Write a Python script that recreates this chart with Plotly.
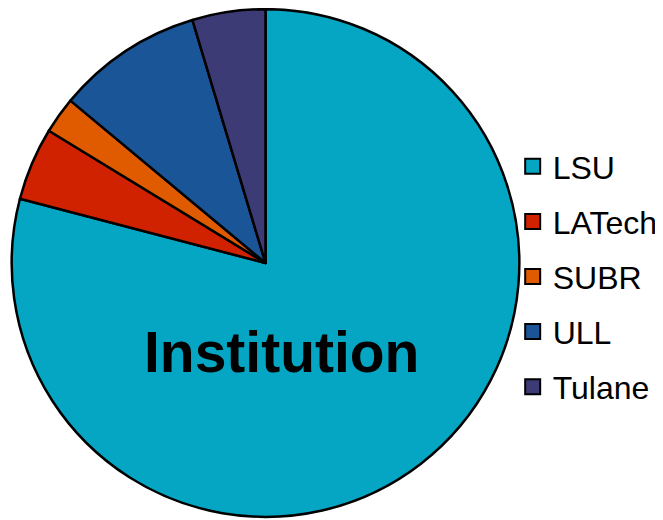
import plotly.graph_objects as go

labels = ["LSU", "LATech", "SUBR", "ULL", "Tulane"]
values = [170, 10, 5, 20, 10]
colors = ["#05a6c4", "#d02200", "#e05a00", "#1a5597", "#3c3b76"]
title_text = "Institution"

W, H = 655, 512  # page body offsets the figure by 8px

fig = go.Figure()
fig.add_trace(go.Pie(
    labels=labels, values=values, sort=False, direction="clockwise", rotation=0,
    marker=dict(colors=colors, line=dict(color="black", width=2.5)),
    textinfo="none", hoverinfo="label+value+percent", showlegend=False,
    domain=dict(x=[3.7/W, 513.7/W], y=[1 - 510/H, 1]),
))

for i, (lab, col) in enumerate(zip(labels, colors)):
    fig.add_trace(go.Scatter(
        x=[None], y=[None], mode="markers", name=lab, legendgroup=f"g{i}",
        marker=dict(symbol="square", size=15, color=col, line=dict(color="black", width=2)),
        showlegend=True, hoverinfo="skip",
    ))

fig.add_annotation(
    text=f"<b>{title_text}</b>", x=274.5/W, y=1 - 344/H, xref="paper", yref="paper",
    xanchor="center", yanchor="middle", showarrow=False,
    font=dict(family="Liberation Sans, Arial, sans-serif", size=57, color="black"),
)

fig.update_layout(
    width=W, height=H, margin=dict(l=0, r=0, t=0, b=0),
    paper_bgcolor="white", plot_bgcolor="white",
    xaxis=dict(visible=False), yaxis=dict(visible=False),
    font=dict(family="Liberation Sans, Arial, sans-serif", color="black"),
    legend=dict(
        x=507/W, y=1 - 131/H, xanchor="left", yanchor="top",
        font=dict(size=32, color="black"), traceorder="grouped", tracegroupgap=10.5,
        bgcolor="rgba(0,0,0,0)", itemsizing="trace",
    ),
)

fig.write_html("out.html")
